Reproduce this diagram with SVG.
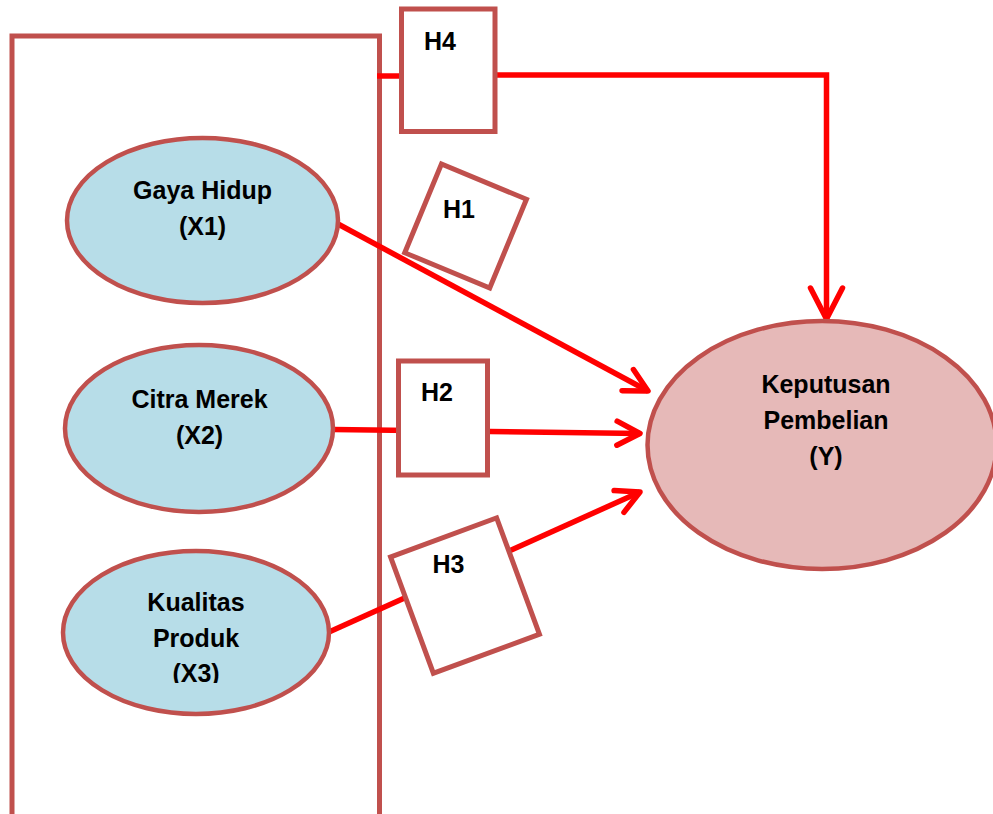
<svg xmlns="http://www.w3.org/2000/svg" width="993" height="814" viewBox="0 0 993 814">
<style>
.frame{fill:none;stroke:#C0504D;stroke-width:5}
.box{fill:#FFFFFF;stroke:#C0504D;stroke-width:5}
.var{fill:#B7DDE8;stroke:#C0504D;stroke-width:4.5}
.dep{fill:#E6B9B8;stroke:#C0504D;stroke-width:4.5}
.lbl{font-family:"Liberation Sans",Arial,sans-serif;font-weight:bold;font-size:25px;fill:#000000;text-anchor:middle}
.conn{fill:none;stroke:#FF0000;stroke-width:5.5}
.head{fill:none;stroke:#FF0000;stroke-width:5.5;stroke-linecap:round;stroke-linejoin:round}
</style>
<defs>
<marker id="ah" markerUnits="userSpaceOnUse" markerWidth="40" markerHeight="40" refX="0" refY="0" orient="auto" overflow="visible">
<path class="head" d="M-23,-12 L0,0 L-23,12"/>
</marker>
<marker id="ahBig" markerUnits="userSpaceOnUse" markerWidth="40" markerHeight="40" refX="0" refY="0" orient="auto" overflow="visible">
<path class="head" d="M-31,-16 L0,0 L-31,16"/>
</marker>
<clipPath id="clipX3"><rect x="60" y="540" width="280" height="143"/></clipPath>
</defs>
<rect width="993" height="814" fill="#FFFFFF"/>
<g id="frame">
<path class="frame" d="M12,820 V36 H379.5 V820"/>
</g>
<g id="connectors">
<line class="conn" x1="338" y1="224" x2="648" y2="391" marker-end="url(#ah)"/>
<line class="conn" x1="333" y1="429.5" x2="640" y2="433.5" marker-end="url(#ah)"/>
<line class="conn" x1="329" y1="632" x2="640" y2="492" marker-end="url(#ah)"/>
<line class="conn" x1="377" y1="76" x2="402" y2="76"/>
<path class="conn" d="M495,75 H826.5 V319" marker-end="url(#ahBig)"/>
</g>
<g id="gaya-hidup">
<ellipse class="var" cx="202.5" cy="220.5" rx="135.5" ry="82.5"/>
<text class="lbl" x="202.5" y="199">Gaya Hidup</text>
<text class="lbl" x="202.5" y="235">(X1)</text>
</g>
<g id="citra-merek">
<ellipse class="var" cx="199" cy="428.5" rx="134" ry="83.5"/>
<text class="lbl" x="199.5" y="408">Citra Merek</text>
<text class="lbl" x="199.5" y="444">(X2)</text>
</g>
<g id="kualitas-produk">
<ellipse class="var" cx="196" cy="632.5" rx="133" ry="81.5"/>
<g clip-path="url(#clipX3)">
<text class="lbl" x="196" y="611">Kualitas</text>
<text class="lbl" x="196" y="647">Produk</text>
<text class="lbl" x="196" y="682">(X3)</text>
</g>
</g>
<g id="keputusan-pembelian">
<ellipse class="dep" cx="822" cy="445" rx="174.5" ry="124"/>
<text class="lbl" x="826" y="393">Keputusan</text>
<text class="lbl" x="826" y="429">Pembelian</text>
<text class="lbl" x="826" y="465">(Y)</text>
</g>
<g id="h4">
<rect class="box" x="401.5" y="9" width="93.5" height="122.5"/>
<text class="lbl" x="440" y="50">H4</text>
</g>
<g id="h1">
<rect class="box" x="419.6" y="178" width="92" height="96" transform="rotate(22.5 465.6 226)"/>
<text class="lbl" x="459" y="218">H1</text>
</g>
<g id="h2">
<rect class="box" x="398.5" y="361" width="89" height="114"/>
<text class="lbl" x="437" y="401">H2</text>
</g>
<g id="h3">
<rect class="box" x="408.5" y="533.6" width="113" height="124" transform="rotate(-20.2 465 595.6)"/>
<text class="lbl" x="448.5" y="573">H3</text>
</g>
</svg>
